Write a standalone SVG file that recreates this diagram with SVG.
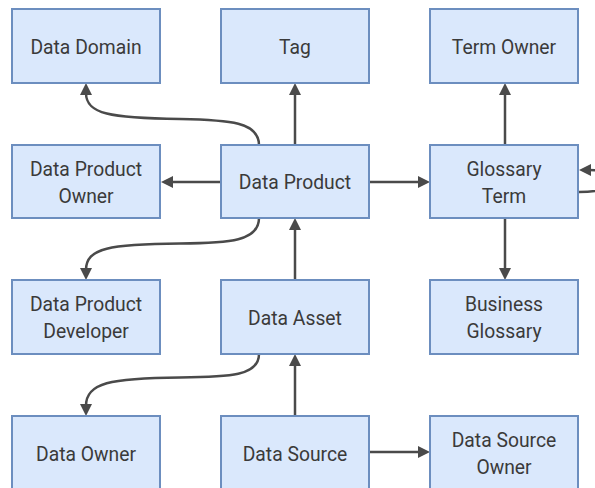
<svg xmlns="http://www.w3.org/2000/svg" width="595" height="488" viewBox="0 0 595 488">
  <style>
    .node rect { fill: #dae8fc; stroke: #6c8ebf; stroke-width: 2; }
    .node text { font-family: Roboto, "Liberation Sans", sans-serif; font-size: 21px; fill: #3a3a3a; text-anchor: middle;
                 transform-box: fill-box; transform-origin: center; transform: scaleX(0.92); }
    .edge { fill: none; stroke: #4a4a4a; stroke-width: 2.5; marker-end: url(#arrow); }
  </style>
  <defs>
    <marker id="arrow" viewBox="0 0 12 12" refX="2" refY="6" markerWidth="12" markerHeight="12" markerUnits="userSpaceOnUse" orient="auto">
      <path d="M0,0 L12,6 L0,12 z" fill="#4a4a4a"/>
    </marker>
  </defs>
  <rect width="595" height="488" fill="#ffffff"/>

  <g id="connectors">
    <path class="edge" d="M259,145 C259,122 230,120 180,119 C110,118 86,114 86,93"/>
    <path class="edge" d="M295,145 V93"/>
    <path class="edge" d="M221,182 H171"/>
    <path class="edge" d="M370,182 H420"/>
    <path class="edge" d="M259,218 C259,241 230,243 180,243.5 C110,244 86,248 86,270"/>
    <path class="edge" d="M295,280 V228"/>
    <path class="edge" d="M505,145 V93"/>
    <path class="edge" d="M505,218 V270"/>
    <path class="edge" d="M579,192 C600,192 612,188 612,181 C612,174 600,170 589,170"/>
    <path class="edge" d="M259,354 C259,376 230,377 180,377.5 C110,378 86,383 86,406"/>
    <path class="edge" d="M295,416 V364"/>
    <path class="edge" d="M370,452 H420"/>
  </g>

  <g id="data-domain" class="node">
    <rect x="12" y="9" width="148" height="74"/>
    <text x="86" y="54">Data Domain</text>
  </g>
  <g id="tag" class="node">
    <rect x="221" y="9" width="148" height="74"/>
    <text x="295" y="54">Tag</text>
  </g>
  <g id="term-owner" class="node">
    <rect x="430" y="9" width="148" height="74"/>
    <text x="504" y="54">Term Owner</text>
  </g>

  <g id="data-product-owner" class="node">
    <rect x="12" y="145" width="148" height="73"/>
    <text x="86" y="176">Data Product</text>
    <text x="86" y="203">Owner</text>
  </g>
  <g id="data-product" class="node">
    <rect x="221" y="145" width="148" height="73"/>
    <text x="295" y="189.5">Data Product</text>
  </g>
  <g id="glossary-term" class="node">
    <rect x="430" y="145" width="148" height="73"/>
    <text x="504" y="176">Glossary</text>
    <text x="504" y="203">Term</text>
  </g>

  <g id="data-product-developer" class="node">
    <rect x="12" y="280" width="148" height="74"/>
    <text x="86" y="311.5">Data Product</text>
    <text x="86" y="338.5">Developer</text>
  </g>
  <g id="data-asset" class="node">
    <rect x="221" y="280" width="148" height="74"/>
    <text x="295" y="325">Data Asset</text>
  </g>
  <g id="business-glossary" class="node">
    <rect x="430" y="280" width="148" height="74"/>
    <text x="504" y="311.5">Business</text>
    <text x="504" y="338.5">Glossary</text>
  </g>

  <g id="data-owner" class="node">
    <rect x="12" y="416" width="148" height="74"/>
    <text x="86" y="461">Data Owner</text>
  </g>
  <g id="data-source" class="node">
    <rect x="221" y="416" width="148" height="74"/>
    <text x="295" y="461">Data Source</text>
  </g>
  <g id="data-source-owner" class="node">
    <rect x="430" y="416" width="148" height="74"/>
    <text x="504" y="447.5">Data Source</text>
    <text x="504" y="474.5">Owner</text>
  </g>
</svg>
